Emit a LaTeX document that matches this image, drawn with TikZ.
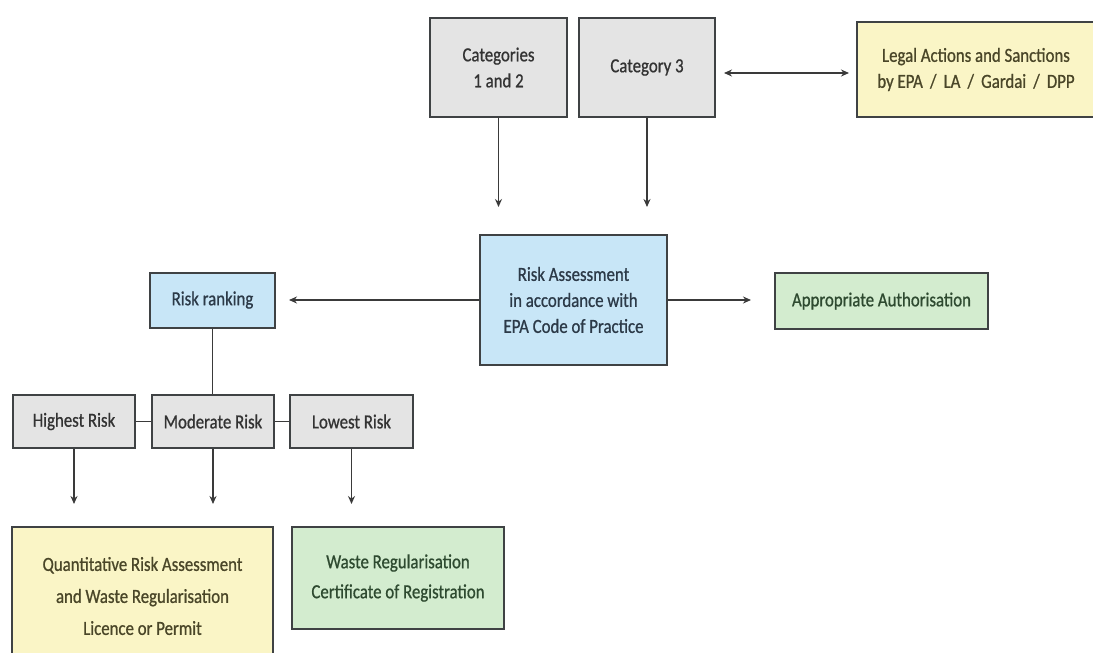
\documentclass[tikz,border=0pt]{standalone}
\usepackage{fontspec}
\setmainfont{Carlito}[FakeStretch=0.84,FakeBold=0.8]
\usetikzlibrary{arrows.meta,calc}

\definecolor{boxgray}{HTML}{E4E4E4}
\definecolor{boxblue}{HTML}{C8E6F7}
\definecolor{boxyellow}{HTML}{FAF5C6}
\definecolor{boxgreen}{HTML}{D3ECCF}
\definecolor{edgedark}{HTML}{3F4244}
\definecolor{txtgray}{HTML}{333333}
\definecolor{txtblue}{HTML}{2C3A48}
\definecolor{txtolive}{HTML}{4A4628}
\definecolor{txtgreen}{HTML}{2E4A30}
\definecolor{linedark}{HTML}{3A3A3A}

\tikzset{
  box/.style={draw=edgedark, line width=2pt, rectangle, align=center,
    inner sep=2pt, font=\fontsize{20}{26}\selectfont},
  graybox/.style={box, fill=boxgray, text=txtgray},
  bluebox/.style={box, fill=boxblue, text=txtblue},
  yellowbox/.style={box, fill=boxyellow, text=txtolive},
  greenbox/.style={box, fill=boxgreen, text=txtgreen},
  arr/.style={draw=linedark, line width=1.6pt, -{Stealth[length=8pt,width=7pt]}},
  darr/.style={draw=linedark, line width=1.6pt, {Stealth[length=8pt,width=7pt]}-{Stealth[length=8pt,width=7pt]}},
  link/.style={draw=linedark, line width=1.6pt}
}

\begin{document}
\begin{tikzpicture}[x=1pt,y=-1pt]
\useasboundingbox[fill=white] (0,0) rectangle (1093,653);

% top row: categories and legal actions
\node[graybox, minimum width=137pt, minimum height=99pt] (c12) at (498.5,67.5) {Categories\\1 and 2};
\node[graybox, minimum width=136pt, minimum height=99pt] (c3) at (647,67.5) {Category 3};
\node[yellowbox, minimum width=238pt, minimum height=95pt] (legal) at (976,69.5)
  {Legal Actions and Sanctions\\by EPA \,/\, LA \,/\, Gardai \,/\, DPP};

% middle row
\node[bluebox, minimum width=187pt, minimum height=130pt] (ra) at (573.5,300)
  {Risk Assessment\\in accordance with\\EPA Code of Practice};
\node[bluebox, minimum width=125pt, minimum height=55pt] (rr) at (212.5,300) {Risk ranking};
\node[greenbox, minimum width=213pt, minimum height=56pt] (aa) at (881.5,301) {Appropriate Authorisation};

% risk levels
\node[graybox, minimum width=122pt, minimum height=53pt] (hr) at (74,421.5) {Highest Risk};
\node[graybox, minimum width=122pt, minimum height=53pt] (mr) at (213,421.5) {Moderate Risk};
\node[graybox, minimum width=123pt, minimum height=53pt] (lr) at (351.5,421.5) {Lowest Risk};

% outcomes
\node[yellowbox, minimum width=261pt, minimum height=138pt, font=\fontsize{20}{32}\selectfont] (q) at (142.5,596)
  {Quantitative Risk Assessment\\and Waste Regularisation\\Licence or Permit};
\node[greenbox, minimum width=212pt, minimum height=102pt, font=\fontsize{20}{30}\selectfont] (w) at (398,578)
  {Waste Regularisation\\Certificate of Registration};

% connectors
\draw[arr, shorten >=27pt] (c12.south) -- (c12.south |- ra.north);
\draw[arr, shorten >=27pt] (c3.south) -- (c3.south |- ra.north);
\draw[darr, shorten <=8pt, shorten >=7pt] ($(c3.east)+(0,5.5)$) -- ($(c3.east -| legal.west)+(0,5.5)$);
\draw[arr, shorten >=13pt] (ra.west) -- (ra.west -| rr.east);
\draw[arr, shorten >=23pt] (ra.east) -- (ra.east -| aa.west);
\draw[link] (rr.south) -- (rr.south |- mr.north);
\draw[link] (hr.east) -- (mr.west);
\draw[link] (mr.east) -- (lr.west);
\draw[arr, shorten >=22pt] (hr.south) -- (hr.south |- q.north);
\draw[arr, shorten >=22pt] (mr.south) -- (mr.south |- q.north);
\draw[arr, shorten >=22pt] (lr.south) -- (lr.south |- w.north);
\end{tikzpicture}
\end{document}
